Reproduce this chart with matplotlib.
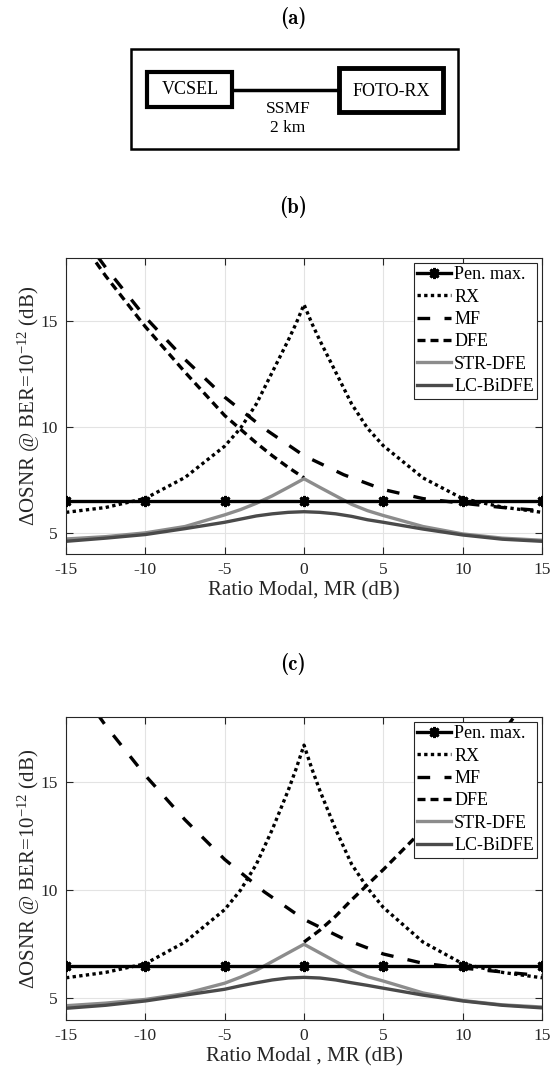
import os
import numpy as np
import matplotlib as mpl
mpl.use('Agg')
import matplotlib.pyplot as plt
from matplotlib import font_manager as fm
from matplotlib.patches import Rectangle

plt.rcParams['font.family'] = ['Liberation Serif', 'DejaVu Serif']
plt.rcParams['mathtext.fontset'] = 'custom'
plt.rcParams['mathtext.rm'] = 'Liberation Serif'
plt.rcParams['mathtext.it'] = 'Liberation Serif:italic'

# ---- data (MR in dB, delta OSNR in dB) ----
mr_pen = [-15, -10, -5, 0, 5, 10, 15]
pen_max = [6.5, 6.5, 6.5, 6.5, 6.5, 6.5, 6.5]

mr_rx = [-15, -12.5, -10, -7.5, -5, -4, -3, -2, -1, -0.5, 0,
         0.5, 1, 2, 3, 4, 5, 7.5, 10, 12.5, 15]
rx_b = [5.97, 6.2, 6.63, 7.62, 9.1, 9.95, 11.1, 12.6, 14.1, 14.9, 15.8,
        14.9, 14.1, 12.6, 11.1, 9.95, 9.12, 7.6, 6.62, 6.22, 5.97]
rx_c = [5.95, 6.2, 6.6, 7.6, 9.1, 10.0, 11.2, 12.8, 14.6, 15.6, 16.7,
        15.6, 14.6, 12.8, 11.2, 10.1, 9.2, 7.6, 6.6, 6.2, 5.95]

mr_mf = [-15, -12.5, -10, -7.5, -5, -2.5, 0, 2.5, 5, 7.5, 10, 12.5, 15]
mf_b = [20.1, 17.55, 15.2, 13.2, 11.42, 9.93, 8.65, 7.75, 7.05, 6.62, 6.4, 6.2, 6.05]
mf_c = [20.2, 17.6, 15.3, 13.25, 11.42, 9.92, 8.65, 7.75, 7.05, 6.62, 6.4, 6.22, 6.05]

mr_dfe_b = [-15, -12.5, -10, -7.5, -5, -4, -3, -2, -1, 0]
dfe_b = [19.8, 17.15, 14.75, 12.6, 10.55, 9.9, 9.25, 8.65, 8.1, 7.6]
mr_dfe_c = [0, 1, 2, 3, 4, 5, 7.5, 10, 12.5, 15]
dfe_c = [7.6, 8.15, 8.8, 9.55, 10.25, 10.95, 12.8, 14.9, 17.25, 19.8]

mr_eq = [-15, -12.5, -10, -7.5, -5, -4, -3, -2, -1, 0,
         1, 2, 3, 4, 5, 7.5, 10, 12.5, 15]
str_b = [4.71, 4.82, 5.0, 5.3, 5.85, 6.1, 6.4, 6.75, 7.15, 7.56,
         7.15, 6.75, 6.35, 6.05, 5.82, 5.3, 4.95, 4.75, 4.65]
lc_b = [4.6, 4.75, 4.92, 5.2, 5.5, 5.65, 5.8, 5.9, 5.97, 6.0,
        5.97, 5.9, 5.78, 5.62, 5.5, 5.18, 4.9, 4.7, 4.6]
str_c = [4.66, 4.78, 4.95, 5.22, 5.7, 5.98, 6.3, 6.7, 7.1, 7.5,
         7.1, 6.7, 6.3, 6.0, 5.8, 5.25, 4.9, 4.7, 4.6]
lc_c = [4.54, 4.68, 4.88, 5.15, 5.42, 5.58, 5.72, 5.85, 5.94, 5.97,
        5.94, 5.85, 5.72, 5.6, 5.47, 5.15, 4.88, 4.68, 4.56]

labels = ['Pen. max.', 'RX', 'MF', 'DFE', 'STR-DFE', 'LC-BiDFE']
xticks = [-15, -10, -5, 0, 5, 10, 15]
yticks = [5, 10, 15]

W, H = 552, 1078
fig = plt.figure(figsize=(W / 100, H / 100), dpi=100)
cmb = fm.FontProperties(fname=os.path.join(mpl.get_data_path(), 'fonts/ttf/cmb10.ttf'), size=15)

# ---- (a) block diagram, drawn in pixel coordinates ----
ax0 = fig.add_axes([0, 0, 1, 1])
ax0.set_xlim(0, W)
ax0.set_ylim(H, 0)
ax0.axis('off')
ax0.text(293, 18, '(a)', fontproperties=cmb, ha='center', va='center')
ax0.text(293, 207, '(b)', fontproperties=cmb, ha='center', va='center')
ax0.text(293, 664, '(c)', fontproperties=cmb, ha='center', va='center')
ax0.add_patch(Rectangle((131, 49), 327, 100, fill=False, lw=1.8, ec='black'))
ax0.add_patch(Rectangle((147, 72), 85, 35, fill=False, lw=3, ec='black'))
ax0.add_patch(Rectangle((339, 68), 104, 44, fill=False, lw=3.5, ec='black'))
ax0.plot([232, 339], [90, 90], color='black', lw=2.5)
ax0.text(190, 89, 'VCSEL', fontsize=13, ha='center', va='center')
ax0.text(391, 91, 'FOTO-RX', fontsize=13, ha='center', va='center')
ax0.text(288, 109, 'SSMF', fontsize=12.5, ha='center', va='center')
ax0.text(288, 128, '2 km', fontsize=12.5, ha='center', va='center')


def panel(rect, rx, mf, mr_dfe, dfe, strd, lc, xlabel):
    ax = fig.add_axes(rect)
    lw = 2.4
    ax.plot(mr_pen, pen_max, color='black', lw=lw, marker=(8, 2, 0),
            ms=8, mew=2, label=labels[0], zorder=5)
    ax.plot(mr_rx, rx, color='black', lw=lw, ls=(0, (1, 1)), label=labels[1])
    ax.plot(mr_mf, mf, color='black', lw=lw, ls=(0, (3.8, 4.3)), label=labels[2])
    ax.plot(mr_dfe, dfe, color='black', lw=lw, ls=(0, (2.4, 1.5)), label=labels[3])
    ax.plot(mr_eq, strd, color='#8c8c8c', lw=lw, label=labels[4])
    ax.plot(mr_eq, lc, color='#4a4a4a', lw=lw, label=labels[5])
    ax.set_xlim(-15, 15)
    ax.set_ylim(4, 18)
    ax.set_xticks(xticks)
    ax.set_xticklabels([str(t) for t in xticks])
    ax.set_yticks(yticks)
    ax.grid(True, color='#e3e3e3', lw=0.8)
    ax.set_axisbelow(True)
    for s in ax.spines.values():
        s.set_color('#262626')
        s.set_linewidth(0.8)
    ax.tick_params(direction='in', length=5, width=0.8, labelsize=12.5,
                   top=True, right=True, colors='#262626', labelcolor='#262626', pad=6)
    ax.set_xlabel(xlabel, fontsize=15, color='#262626', labelpad=2)
    ax.set_ylabel(r'$\Delta$OSNR @ BER=10$^{-12}$ (dB)', fontsize=15,
                  color='#262626', labelpad=-1)
    leg = ax.legend(loc='upper right', fontsize=13, frameon=True, fancybox=False,
                    framealpha=1, edgecolor='#262626', handlelength=1.9,
                    handletextpad=0.15, labelspacing=0.3, borderpad=0.2,
                    borderaxespad=0.25)
    leg.get_frame().set_linewidth(0.8)
    return ax


panel([66 / W, 1 - 554 / H, 476 / W, 296 / H], rx_b, mf_b, mr_dfe_b, dfe_b,
      str_b, lc_b, 'Ratio Modal, MR (dB)')
panel([66 / W, 1 - 1020 / H, 476 / W, 303 / H], rx_c, mf_c, mr_dfe_c, dfe_c,
      str_c, lc_c, 'Ratio Modal , MR (dB)')

fig.savefig('out.png', dpi=100)
